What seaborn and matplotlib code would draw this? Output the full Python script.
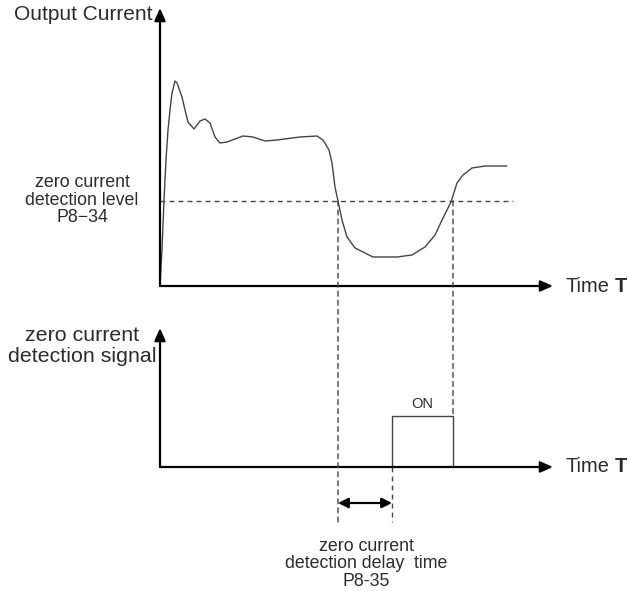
import matplotlib
matplotlib.use("Agg")
import matplotlib.pyplot as plt
from matplotlib.patches import ConnectionPatch
from matplotlib.text import Annotation
import seaborn as sns

# output current curve (time, current)
time = [0, 2, 4, 6, 8, 10, 12, 15, 17, 22, 25, 28, 34, 40, 45, 50, 55, 60, 67,
        83, 93, 105, 117, 140, 157, 163, 169, 172, 175, 178, 182, 187, 195,
        213, 237, 252, 260, 265, 275, 283, 291, 297, 303, 312, 325, 347]
current = [1, 36, 86, 126, 156, 176, 193, 205, 203, 189, 176, 164, 157, 165,
           167, 163, 149, 143, 144, 150, 149, 145, 146, 149, 150, 146, 136,
           123, 99, 85, 66, 49, 38, 29, 29, 31, 36, 39, 51, 68, 84, 103, 111,
           118, 120, 120]

level = 85
level_end = 353
t_down = 178
t_up = 293
t_on = 232
on_level = 51

W, H = 629, 591
INK = "#444444"
TXT = "#2b2b2b"

sns.set_style("white")
plt.rcParams["font.family"] = ["Liberation Sans", "DejaVu Sans"]

fig = plt.figure(figsize=(W / 100, H / 100), dpi=100)
ax_top = fig.add_axes([160 / W, 1 - 286 / H, 393 / W, 278 / H])
ax_bot = fig.add_axes([160 / W, 1 - 530 / H, 393 / W, 202 / H])
ax_top.set_xlim(0, 393)
ax_top.set_ylim(0, 278)
ax_bot.set_xlim(0, 393)
ax_bot.set_ylim(-63, 139)
for ax in (ax_top, ax_bot):
    ax.set_axis_off()
    ax.patch.set_alpha(0)

# axes drawn as arrows
arrow = dict(arrowstyle="-|>,head_length=0.75,head_width=0.33", lw=1.6,
             color="black", shrinkA=0, shrinkB=0, mutation_scale=10)
for ax in (ax_top, ax_bot):
    x1 = ax.get_xlim()[1]
    y1 = ax.get_ylim()[1]
    ax.annotate("", xy=(x1, 0), xytext=(0, 0), arrowprops=arrow,
                annotation_clip=False)
    ax.annotate("", xy=(0, y1), xytext=(0, 0), arrowprops=arrow,
                annotation_clip=False)

sns.lineplot(x=time, y=current, sort=False, estimator=None, ax=ax_top,
             color=INK, lw=1.0)
dash = (0, (3.5, 3))
ax_top.plot([0, level_end], [level, level], color=INK, lw=1.0, ls=dash)

sig_t = [t_on, t_on, t_up, t_up]
sig_v = [0, on_level, on_level, 0]
sns.lineplot(x=sig_t, y=sig_v, sort=False, estimator=None, ax=ax_bot,
             color=INK, lw=1.0)

# dashed guides running from the top chart into the bottom one
for tx, yb in ((t_down, -55), (t_up, on_level)):
    con = ConnectionPatch((tx, level), (tx, yb), coordsA=ax_top.transData,
                          coordsB=ax_bot.transData, color=INK, lw=1.0,
                          ls=dash)
    fig.add_artist(con)
ax_bot.plot([t_on, t_on], [0, -55], color=INK, lw=1.0, ls=dash)

ax_bot.annotate("", xy=(t_on, -36), xytext=(t_down, -36),
                arrowprops=dict(arrowstyle="<|-|>,head_length=0.6,head_width=0.3",
                                lw=1.6, color="black", shrinkA=0, shrinkB=0,
                                mutation_scale=10),
                annotation_clip=False)
ax_bot.text((t_up + t_on) / 2, on_level + 5, "ON", ha="center", va="bottom",
            fontsize=10.5, color=TXT)


def px_text(x, y, s, **kw):
    kw.setdefault("color", TXT)
    return fig.text(x / W, 1 - y / H, s, **kw)


px_text(152, 15, "Output Current", ha="right", va="center", fontsize=15)
px_text(82, 200, "zero current\ndetection level\nP8\u221234", ha="center",
        va="center", fontsize=12.8, linespacing=1.07)
px_text(82, 346, "zero current\ndetection signal", ha="center", va="center",
        fontsize=15.4, linespacing=1.1)
px_text(366, 564, "zero current\ndetection delay  time\nP8-35", ha="center",
        va="center", fontsize=12.8, linespacing=1.05)
for yy in (286, 467):
    word = px_text(565, yy, "Time", ha="left", va="center", fontsize=14.4)
    fig.add_artist(Annotation(
        "T", xy=(1, 0.5), xycoords=word, xytext=(4, 0),
        textcoords="offset points", ha="left", va="center", fontsize=14.4,
        fontweight="bold", color=TXT))

fig.savefig("out.png", dpi=100)
